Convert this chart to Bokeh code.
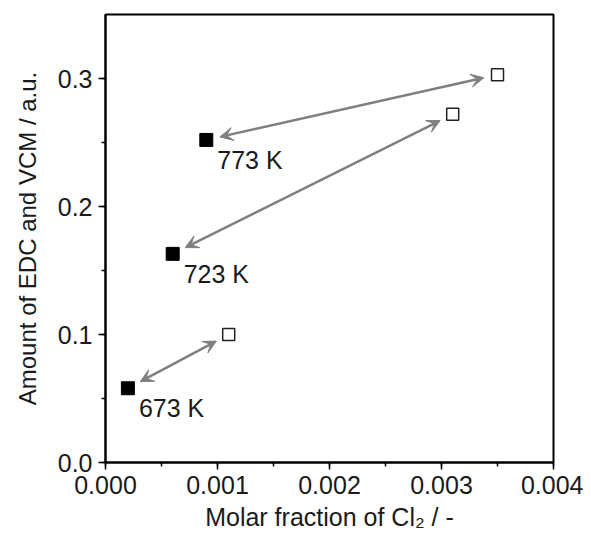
import numpy as np
from bokeh.plotting import figure
from bokeh.models import (Range1d, SingleIntervalTicker, NumeralTickFormatter,
                          Arrow, VeeHead, ColumnDataSource)
from bokeh.core.properties import value
from bokeh.embed import file_html
from bokeh.resources import INLINE

# ---- data ----
temperatures = ["673 K", "723 K", "773 K"]
cl2_filled = [0.0002, 0.0006, 0.00090]      # filled squares (x)
amount_filled = [0.058, 0.163, 0.252]       # filled squares (y)
cl2_open = [0.0011, 0.0031, 0.0035]         # open squares (x)
amount_open = [0.100, 0.272, 0.303]         # open squares (y)

x_ticks_interval = 0.001
y_ticks_interval = 0.1
x_start, x_end = 0.0, 0.004
y_start, y_end = 0.0, 0.35

FONT = "Liberation Sans"
FW, FH = 448, 448

p = figure(frame_width=FW, frame_height=FH, output_backend="svg",
           toolbar_location=None,
           x_range=Range1d(x_start, x_end), y_range=Range1d(y_start, y_end),
           min_border_left=105, min_border_top=14, min_border_bottom=66,
           min_border_right=30)
p.background_fill_color = "white"
p.border_fill_color = "white"
p.outline_line_color = "black"
p.outline_line_width = 2
p.xgrid.visible = False
p.ygrid.visible = False

p.xaxis.ticker = SingleIntervalTicker(interval=x_ticks_interval, num_minor_ticks=2)
p.yaxis.ticker = SingleIntervalTicker(interval=y_ticks_interval, num_minor_ticks=2)
p.xaxis.formatter = NumeralTickFormatter(format="0.000")
p.yaxis.formatter = NumeralTickFormatter(format="0.0")
p.xaxis.axis_label = "Molar fraction of Cl\u2082 / -"
p.yaxis.axis_label = "Amount of EDC and VCM / a.u."

for ax in (p.xaxis[0], p.yaxis[0]):
    ax.axis_line_color = "black"
    ax.axis_line_width = 2
    ax.major_tick_line_color = "black"
    ax.major_tick_line_width = 1.5
    ax.minor_tick_line_color = "black"
    ax.minor_tick_line_width = 1.5
    ax.major_tick_in = 0
    ax.major_tick_out = 7
    ax.minor_tick_in = 0
    ax.minor_tick_out = 4
    ax.major_label_text_font = FONT
    ax.major_label_text_font_size = "25px"
    ax.major_label_text_color = "#1a1a1a"
    ax.axis_label_text_font = FONT
    ax.axis_label_text_font_size = "24px"
    ax.axis_label_text_font_style = "normal"
    ax.axis_label_text_color = "#1a1a1a"
    ax.major_label_standoff = 6

p.xaxis.axis_label_text_font_size = "25px"
p.xaxis.axis_label_standoff = 6
p.yaxis.axis_label_standoff = 14

# ---- arrows between paired points, shortened by a pixel gap ----
sx = FW / (x_end - x_start)
sy = FH / (y_end - y_start)
gap = 14.0
xf = np.array(cl2_filled); yf = np.array(amount_filled)
xo = np.array(cl2_open); yo = np.array(amount_open)
dxp = (xo - xf) * sx
dyp = (yo - yf) * sy
L = np.hypot(dxp, dyp)
ux, uy = dxp / L, dyp / L
ax0 = xf + ux * gap / sx
ay0 = yf + uy * gap / sy
ax1 = xo - ux * gap / sx
ay1 = yo - uy * gap / sy

arrow_color = "#7f7f7f"
for i in range(len(temperatures)):
    p.add_layout(Arrow(
        x_start=ax0[i], y_start=ay0[i], x_end=ax1[i], y_end=ay1[i],
        line_color=arrow_color, line_width=2.5,
        start=VeeHead(size=13, fill_color=arrow_color, line_color=arrow_color, line_width=1),
        end=VeeHead(size=13, fill_color=arrow_color, line_color=arrow_color, line_width=1)))

src_f = ColumnDataSource(dict(x=cl2_filled, y=amount_filled, t=temperatures))
p.scatter("x", "y", source=src_f, marker="square", size=13,
          fill_color="black", line_color="black")
p.scatter(cl2_open, amount_open, marker="square", size=12,
          fill_color="white", line_color="#222222", line_width=1.5)

p.text("x", "y", text="t", source=src_f, x_offset=11, y_offset=6,
       text_baseline="top", text_align="left",
       text_font=value(FONT), text_font_size="25px", text_color="#1a1a1a")

open("out.html", "w").write(file_html(p, INLINE))
